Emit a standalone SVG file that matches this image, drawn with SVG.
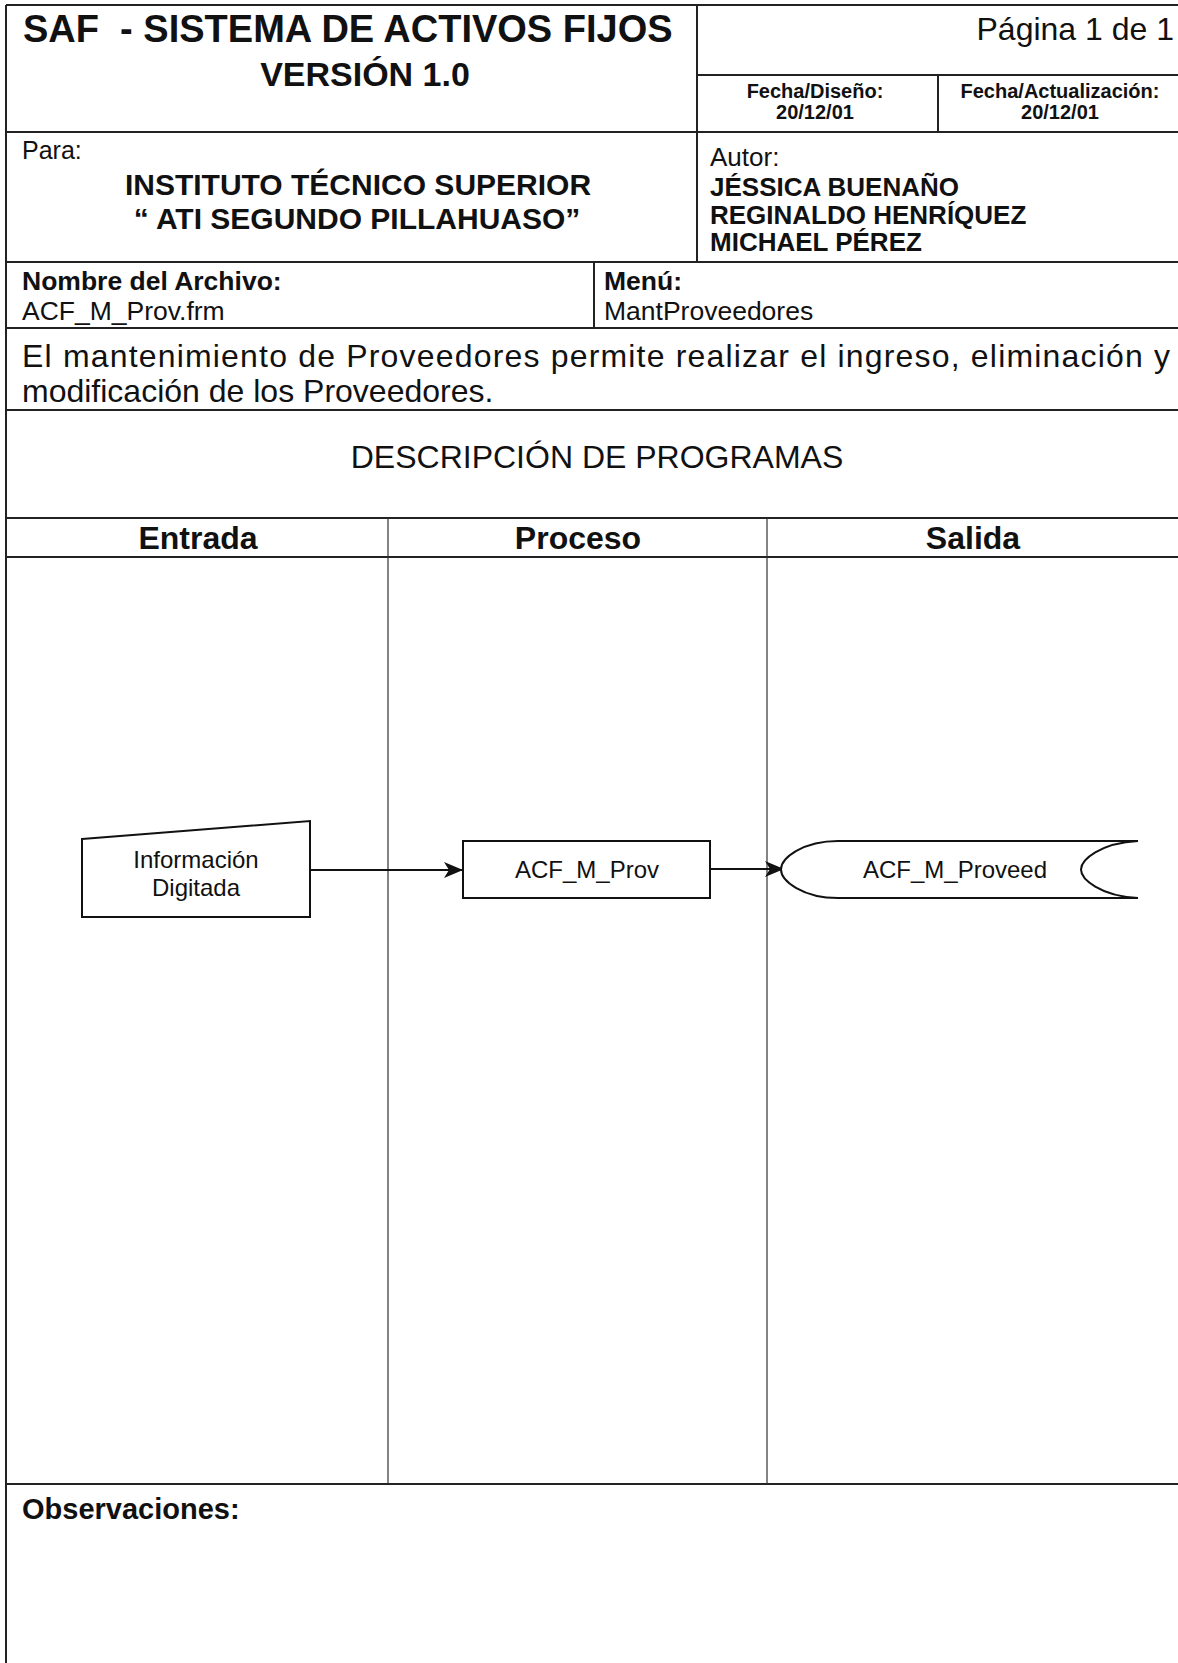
<svg xmlns="http://www.w3.org/2000/svg" width="1178" height="1663" viewBox="0 0 1178 1663">
<style>
.t{font-family:"Liberation Sans",Arial,sans-serif;fill:#111}
.b{font-weight:bold}
.grid{stroke:#222;stroke-width:2;fill:none}
.thin{stroke:#333;stroke-width:1.2;fill:none}
.node{fill:#fff;stroke:#111;stroke-width:2}
.conn{stroke:#111;stroke-width:2;fill:none}
</style>
<defs>
<marker id="arr" markerWidth="20" markerHeight="18" refX="19" refY="9" orient="auto" markerUnits="userSpaceOnUse">
<path d="M0,1 L19,9 L0,17 L5,9 Z" fill="#111"/>
</marker>
</defs>
<rect width="1178" height="1663" fill="#fff"/>
<g id="table">
<path class="grid" d="M6,5 H1178 M6,5 V1663 M697,5 V262 M697,75 H1178 M938,75 V132 M6,132 H1178 M6,262 H1178 M594,262 V328 M6,328 H1178 M6,410 H1178 M6,518 H1178 M6,557 H1178 M6,1484 H1178"/>
<path class="thin" d="M388,518 V1484 M767,518 V1484"/>
</g>
<g id="header-text">
<text class="t b" x="23" y="42" font-size="38" xml:space="preserve">SAF  - SISTEMA DE ACTIVOS FIJOS</text>
<text class="t b" x="365" y="86" font-size="34" text-anchor="middle">VERSIÓN 1.0</text>
<text class="t" x="1174" y="40" font-size="32" text-anchor="end">Página 1 de 1</text>
<text class="t b" x="815" y="98" font-size="20" text-anchor="middle">Fecha/Diseño:</text>
<text class="t b" x="815" y="119" font-size="20" text-anchor="middle">20/12/01</text>
<text class="t b" x="1060" y="98" font-size="20" text-anchor="middle">Fecha/Actualización:</text>
<text class="t b" x="1060" y="119" font-size="20" text-anchor="middle">20/12/01</text>
<text class="t" x="22" y="159" font-size="25">Para:</text>
<text class="t b" x="358" y="195" font-size="30" text-anchor="middle">INSTITUTO TÉCNICO SUPERIOR</text>
<text class="t b" x="357" y="229" font-size="30" text-anchor="middle">“ ATI SEGUNDO PILLAHUASO”</text>
<text class="t" x="710" y="166" font-size="26">Autor:</text>
<text class="t b" x="710" y="196" font-size="26">JÉSSICA BUENAÑO</text>
<text class="t b" x="710" y="224" font-size="26">REGINALDO HENRÍQUEZ</text>
<text class="t b" x="710" y="251" font-size="26">MICHAEL PÉREZ</text>
<text class="t b" x="22" y="290" font-size="26.5">Nombre del Archivo:</text>
<text class="t" x="22" y="320" font-size="26.5">ACF_M_Prov.frm</text>
<text class="t b" x="604" y="290" font-size="26.5">Menú:</text>
<text class="t" x="604" y="320" font-size="26.5">MantProveedores</text>
<text class="t" x="22" y="367" font-size="32" textLength="1148" lengthAdjust="spacing">El mantenimiento de Proveedores permite realizar el ingreso, eliminación y</text>
<text class="t" x="22" y="402" font-size="32">modificación de los Proveedores.</text>
<text class="t" x="597" y="468" font-size="32" text-anchor="middle">DESCRIPCIÓN DE PROGRAMAS</text>
<text class="t b" x="198" y="549" font-size="32" text-anchor="middle">Entrada</text>
<text class="t b" x="578" y="549" font-size="32" text-anchor="middle">Proceso</text>
<text class="t b" x="973" y="549" font-size="32" text-anchor="middle">Salida</text>
<text class="t b" x="22" y="1519" font-size="29">Observaciones:</text>
</g>
<g id="connectors">
<path class="conn" d="M310,870 H463" marker-end="url(#arr)"/>
<path class="conn" d="M710,869 H784" marker-end="url(#arr)"/>
</g>
<g id="node-informacion">
<path class="node" d="M82,839 L310,821 L310,917 L82,917 Z"/>
<text class="t" x="196" y="868" font-size="24" text-anchor="middle">Información</text>
<text class="t" x="196" y="896" font-size="24" text-anchor="middle">Digitada</text>
</g>
<g id="node-acf-m-prov">
<rect class="node" x="463" y="841" width="247" height="57"/>
<text class="t" x="587" y="878" font-size="24" text-anchor="middle">ACF_M_Prov</text>
</g>
<g id="node-acf-m-proveed">
<path class="node" d="M1138,841 H838 C803,841 781,858 781,869.5 C781,881 803,898 838,898 H1138"/>
<path class="node" fill="none" d="M1138,841 C1100,843 1081,860 1081,869.5 C1081,879 1100,896 1138,898"/>
<text class="t" x="955" y="878" font-size="24" text-anchor="middle">ACF_M_Proveed</text>
</g>
</svg>
